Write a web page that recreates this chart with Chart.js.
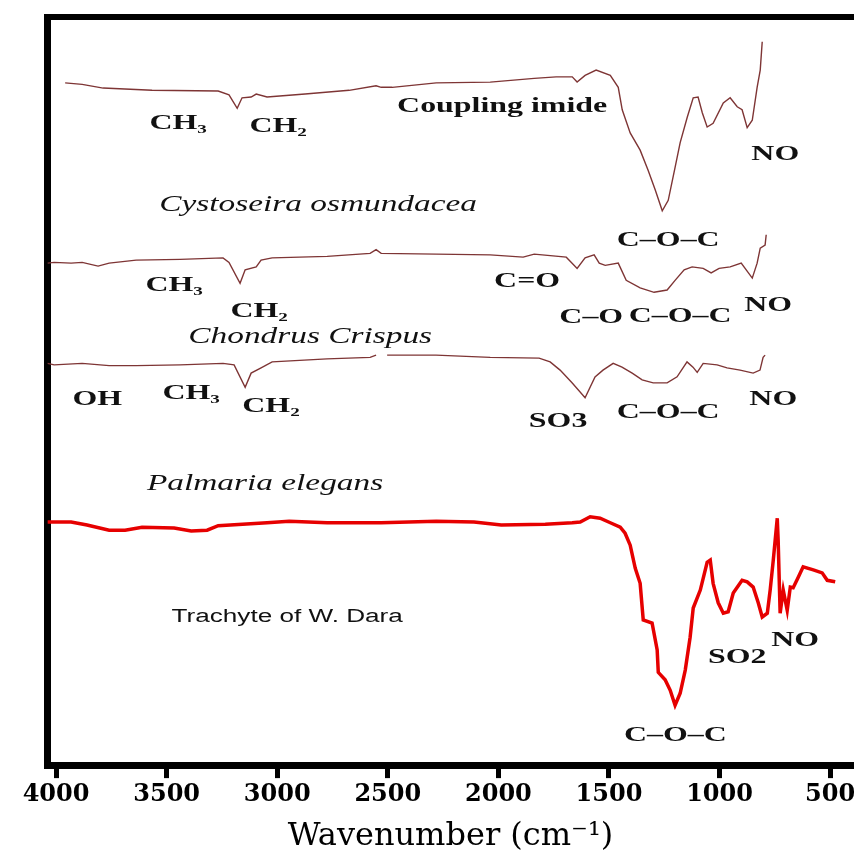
<!DOCTYPE html>
<html>
<head>
<meta charset="utf-8">
<title>FTIR spectra</title>
<script src="https://cdn.jsdelivr.net/npm/chart.js@4.4.1/dist/chart.umd.min.js"></script>
<style>
  html, body { margin: 0; padding: 0; background: #fff; overflow: hidden; }
  #wrap { width: 854px; height: 852px; position: relative; }
</style>
</head>
<body>
<div id="wrap"><canvas id="ftir"></canvas></div>
<script>
// wavenumber ticks on the x axis
const xTicks = [4000, 3500, 3000, 2500, 2000, 1500, 1000, 500];

// Cystoseira osmundacea (top trace), stacked transmittance in a.u.
const cysWave = [3959, 3882, 3787, 3566, 3267, 3218, 3181, 3159, 3118, 3095,
  3046, 2874, 2675, 2553, 2530, 2480, 2281, 2037, 1838, 1739,
  1666, 1644, 1608, 1558, 1494, 1458, 1440, 1404, 1359, 1323,
  1291, 1259, 1232, 1201, 1178, 1146, 1119, 1097, 1078, 1056,
  1029, 983, 952, 920, 898, 875, 852, 830, 816, 807];
const cysT = [91.2, 91.0, 90.5, 90.2, 90.1, 89.6, 87.8, 89.2, 89.3, 89.7,
  89.3, 89.7, 90.2, 90.8, 90.6, 90.6, 91.2, 91.3, 91.8, 92.0,
  92.0, 91.3, 92.2, 92.9, 92.2, 90.6, 87.6, 84.5, 82.2, 79.5,
  76.9, 74.1, 75.5, 79.9, 83.2, 86.6, 89.2, 89.3, 87.2, 85.3,
  85.8, 88.5, 89.2, 88.0, 87.6, 85.2, 86.2, 90.6, 92.9, 96.7];

// Chondrus crispus
const chonWave = [4038, 4009, 3932, 3882, 3810, 3760, 3638, 3439, 3245, 3218,
  3168, 3145, 3095, 3073, 3023, 2774, 2580, 2553, 2530, 2281,
  2037, 1888, 1838, 1693, 1644, 1608, 1567, 1544, 1517, 1458,
  1422, 1359, 1296, 1237, 1201, 1160, 1124, 1074, 1038, 1002,
  952, 902, 852, 830, 816, 794, 789];
const chonT = [67.1, 67.2, 67.1, 67.2, 66.7, 67.1, 67.5, 67.6, 67.8, 67.2,
  64.4, 66.2, 66.6, 67.5, 67.8, 68.0, 68.4, 68.9, 68.4, 68.3,
  68.2, 67.9, 68.3, 67.9, 66.4, 67.8, 68.2, 67.1, 66.8, 67.1,
  64.8, 63.8, 63.2, 63.5, 64.8, 66.2, 66.6, 66.4, 65.8, 66.4,
  66.6, 67.1, 65.1, 67.1, 69.1, 69.5, 70.9];

// Palmaria elegans (null = break in the line)
const palWave = [4038, 4009, 3882, 3760, 3638, 3439, 3245, 3195, 3145, 3118,
  3073, 3023, 2775, 2580, 2553, 2530, 2503, 2282, 2037, 1816,
  1766, 1721, 1667, 1608, 1563, 1527, 1481, 1441, 1395, 1350,
  1300, 1237, 1192, 1147, 1120, 1101, 1074, 1011, 966, 907,
  848, 817, 803, 794];
const palT = [53.7, 53.5, 53.7, 53.4, 53.4, 53.5, 53.7, 53.5, 50.5, 52.4,
  53.1, 53.9, 54.3, 54.5, 54.8, null, 54.8, 54.8, 54.5, 54.4,
  53.9, 52.8, 51.1, 49.1, 51.9, 52.8, 53.7, 53.2, 52.4, 51.5,
  51.1, 51.1, 51.9, 53.9, 53.2, 52.5, 53.7, 53.5, 53.1, 52.8,
  52.4, 52.8, 54.5, 54.8];

// Trachyte of W. Dara
const traWave = [4038, 3932, 3860, 3760, 3688, 3611, 3466, 3389, 3317, 3267,
  3046, 2946, 2774, 2530, 2281, 2110, 1987, 1788, 1666, 1630,
  1585, 1540, 1494, 1449, 1427, 1404, 1381, 1359, 1345, 1305,
  1282, 1277, 1246, 1223, 1201, 1178, 1155, 1133, 1119, 1087,
  1056, 1042, 1029, 1006, 983, 961, 938, 898, 875, 848,
  825, 807, 784, 771, 757, 739, 735, 726, 712, 694,
  680, 667, 644, 622, 576, 536, 513, 477];
const traT = [32.5, 32.5, 32.1, 31.4, 31.4, 31.8, 31.7, 31.3, 31.4, 32.0,
  32.4, 32.6, 32.4, 32.4, 32.6, 32.5, 32.1, 32.2, 32.4, 32.5,
  33.2, 33.0, 32.4, 31.8, 31.0, 29.4, 26.3, 24.3, 19.4, 19.0,
  15.4, 12.4, 11.4, 10.0, 8.0, 9.6, 12.7, 17.1, 21.0, 23.4,
  27.1, 27.4, 24.3, 21.7, 20.3, 20.5, 23.0, 24.7, 24.5, 23.8,
  21.7, 19.8, 20.3, 23.4, 27.4, 33.0, 30.1, 20.3, 23.4, 20.7,
  23.8, 23.7, 25.1, 26.5, 26.1, 25.7, 24.7, 24.5];

// band assignments
const peakText = ['CH₃', 'CH₂', 'Coupling imide', 'NO', 'C–O–C',
  'CH₃', 'C=O', 'CH₂', 'C–O', 'C–O–C', 'NO',
  'OH', 'CH₃', 'CH₂', 'SO3', 'C–O–C', 'NO',
  'SO2', 'NO', 'C–O–C'];
const peakWave = [3448, 2996, 1983, 748, 1232,
  3466, 1870, 3082, 1580, 1178, 780,
  3814, 3389, 3028, 1730, 1232, 757,
  920, 658, 1200];
const peakLevel = [85.8, 85.4, 88.1, 81.6, 70.1,
  64.2, 64.7, 60.6, 59.8, 60.0, 61.5,
  48.9, 49.7, 47.9, 46.0, 47.2, 48.9,
  14.4, 16.7, 4.0];

// sample names
const nameText = ['Cystoseira osmundacea', 'Chondrus Crispus', 'Palmaria elegans'];
const nameWave = [2815, 2851, 3055];
const nameLevel = [74.9, 57.2, 37.6];
const rockText = 'Trachyte of W. Dara';
const rockWave = 2955;
const rockLevel = 19.8;

function pts(w, t) {
  return w.map((v, i) => ({ x: v, y: t[i] }));
}

const thin = '#7e3535';

const labelPlugin = {
  id: 'bandLabels',
  afterDatasetsDraw(chart) {
    const ctx = chart.ctx;
    const xs = chart.scales.x;
    const ys = chart.scales.y;
    const put = (txt, w, lv, font, stretch) => {
      ctx.save();
      ctx.translate(xs.getPixelForValue(w), ys.getPixelForValue(lv));
      ctx.scale(stretch, 1);
      ctx.font = font;
      ctx.fillStyle = '#111';
      ctx.textAlign = 'center';
      ctx.textBaseline = 'middle';
      ctx.fillText(txt, 0, 0);
      ctx.restore();
    };
    peakText.forEach((t, i) => put(t, peakWave[i], peakLevel[i], 'bold 22px "Liberation Serif"', 1.45));
    nameText.forEach((t, i) => put(t, nameWave[i], nameLevel[i], 'italic 23px "Liberation Serif"', 1.45));
    put(rockText, rockWave, rockLevel, '18px "Liberation Sans"', 1.45);
  }
};

new Chart(document.getElementById('ftir'), {
  type: 'line',
  data: {
    datasets: [
      { label: 'Cystoseira osmundacea', data: pts(cysWave, cysT), borderColor: thin, borderWidth: 1.4 },
      { label: 'Chondrus Crispus', data: pts(chonWave, chonT), borderColor: thin, borderWidth: 1.4 },
      { label: 'Palmaria elegans', data: pts(palWave, palT), borderColor: thin, borderWidth: 1.4 },
      { label: 'Trachyte of W. Dara', data: pts(traWave, traT), borderColor: '#e60000', borderWidth: 3.5 }
    ]
  },
  options: {
    responsive: true,
    maintainAspectRatio: false,
    animation: false,
    layout: { padding: { left: 47, top: 17, right: 0, bottom: 0 } },
    elements: { point: { radius: 0 }, line: { tension: 0, fill: false } },
    plugins: { legend: { display: false }, tooltip: { enabled: false } },
    scales: {
      x: {
        type: 'linear',
        reverse: true,
        min: 392,
        max: 4041,
        afterBuildTicks: (scale) => { scale.ticks = xTicks.map(v => ({ value: v })); },
        afterFit: (scale) => { scale.paddingRight = 0; scale.paddingLeft = 0; },
        ticks: {
          color: '#000',
          padding: 2,
          maxRotation: 0,
          autoSkip: false,
          callback: (v) => String(v),
          font: { family: 'DejaVu Serif', weight: 'bold', size: 24 }
        },
        grid: {
          display: true,
          drawOnChartArea: false,
          drawTicks: true,
          tickLength: 13,
          tickWidth: 5,
          tickColor: '#000',
          color: '#000'
        },
        border: { display: true, color: '#000', width: 7 },
        title: {
          display: true,
          text: 'Wavenumber (cm⁻¹)',
          color: '#000',
          font: { family: 'DejaVu Serif', size: 32, lineHeight: 0.94 },
          padding: { top: 11, bottom: 0 }
        }
      },
      x2: {
        type: 'linear',
        position: 'top',
        display: true,
        min: 392,
        max: 4041,
        ticks: { display: false },
        grid: { display: false, drawTicks: false, tickLength: 0 },
        border: { display: true, color: '#000', width: 6 }
      },
      y: {
        type: 'linear',
        min: 0,
        max: 100,
        display: true,
        ticks: { display: false },
        grid: { display: false, drawTicks: false, tickLength: 0 },
        border: { display: true, color: '#000', width: 7 }
      }
    }
  },
  plugins: [labelPlugin]
});
</script>
</body>
</html>
